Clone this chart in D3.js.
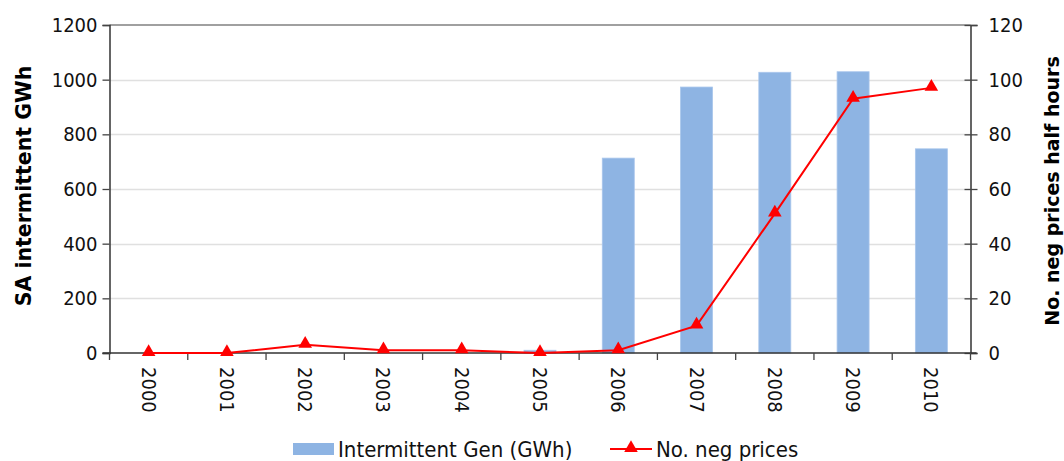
<!DOCTYPE html>
<html><head><meta charset="utf-8">
<script src="https://cdn.jsdelivr.net/npm/d3@7"></script>
<style>body{margin:0;background:#fff}svg{display:block}</style>
</head><body>
<svg id="c" width="1064" height="461"></svg>
<script>
const years = ["2000","2001","2002","2003","2004","2005","2006","2007","2008","2009","2010"];
const genValues = [0,0,0,0,0,10,713,973,1027,1029,747];
const negPrices = [0,0,3,1,1,0,1,10,51,93,97];
const leftTicks = [0,200,400,600,800,1000,1200];
const rightTicks = [0,20,40,60,80,100,120];
const seriesNames = ["Intermittent Gen (GWh)","No. neg prices"];
const axisTitles = ["SA intermittent GWh","No. neg prices half hours"];

const FONT = "'DejaVu Sans Condensed','DejaVu Sans',sans-serif";
const NUMSIZE = 20;
const svg = d3.select("#c");
const L = 109.5, R = 970.5, T = 25, B = 353;
const xb = d3.scaleBand().domain(years).range([L, R]);
const yL = d3.scaleLinear().domain([0,1200]).range([B, T]);
const yR = d3.scaleLinear().domain([0,120]).range([B, T]);

// gridlines
svg.append("g").selectAll("line").data(leftTicks.slice(1,-1)).join("line")
  .attr("x1", L).attr("x2", R).attr("y1", d=>Math.round(yL(d))+0.5).attr("y2", d=>Math.round(yL(d))+0.5)
  .attr("stroke", "#e0e0e0").attr("stroke-width", 1.3);
// top border
svg.append("line").attr("x1", L).attr("x2", R).attr("y1", T).attr("y2", T)
  .attr("stroke", "#808080").attr("stroke-width", 1.5);

// bars
svg.append("g").selectAll("rect").data(years).join("rect")
  .attr("x", (d)=>xb(d) + xb.bandwidth()/2 - 16)
  .attr("width", 32)
  .attr("y", (d,i)=>yL(genValues[i]))
  .attr("height", (d,i)=>B - yL(genValues[i]))
  .attr("fill", "#8eb4e3").attr("stroke", "#a9c6ec").attr("stroke-width", 0.8);

// left axis
const gL = svg.append("g").attr("transform", `translate(${L},0)`)
  .call(d3.axisLeft(yL).tickValues(leftTicks).tickFormat(d3.format("d")).tickSize(7).tickPadding(5));
gL.select(".domain").attr("stroke", "#333").attr("stroke-width", 1.5);
gL.selectAll(".tick line").attr("stroke", "#444").attr("stroke-width", 1.3);
gL.selectAll("text").attr("font-family", FONT).attr("font-size", NUMSIZE).attr("fill", "#111");

// right axis
const gR = svg.append("g").attr("transform", `translate(${R},0)`)
  .call(d3.axisRight(yR).tickValues(rightTicks).tickFormat(d3.format("d")).tickSize(7).tickPadding(11));
gR.select(".domain").attr("stroke", "#333").attr("stroke-width", 1.5);
gR.selectAll(".tick line").attr("x1", -6).attr("stroke", "#444").attr("stroke-width", 1.3);
gR.selectAll("text").attr("font-family", FONT).attr("font-size", NUMSIZE).attr("fill", "#111");

// x axis
const xTicks = years.map(y=>xb(y)).concat([R]);
svg.append("line").attr("x1", L-7).attr("x2", R+6).attr("y1", B).attr("y2", B)
  .attr("stroke", "#333").attr("stroke-width", 1.5);
svg.append("g").selectAll("line").data(xTicks).join("line")
  .attr("x1", d=>d).attr("x2", d=>d).attr("y1", B).attr("y2", B+7)
  .attr("stroke", "#444").attr("stroke-width", 1.3);
svg.append("g").selectAll("text").data(years).join("text")
  .attr("transform", d=>`translate(${xb(d)+xb.bandwidth()/2},367) rotate(90)`)
  .attr("dy", "0.35em").attr("text-anchor", "start")
  .attr("font-family", FONT).attr("font-size", NUMSIZE).attr("fill", "#111")
  .text(d=>d);

// line
const cx = d=>xb(d)+xb.bandwidth()/2;
svg.append("path").datum(years)
  .attr("d", d3.line().x(cx).y((d,i)=>yR(negPrices[i])))
  .attr("fill", "none").attr("stroke", "#ff0000").attr("stroke-width", 2);
const tri = d3.symbol().type(d3.symbolTriangle).size(80);
svg.append("g").selectAll("path").data(years).join("path")
  .attr("transform", (d,i)=>`translate(${cx(d)},${yR(negPrices[i])-1})`)
  .attr("d", tri).attr("fill", "#ff0000");

// axis titles
svg.append("text").attr("transform", `translate(31,${(T+B)/2-3}) rotate(-90)`)
  .attr("text-anchor", "middle").attr("font-family", "'DejaVu Sans',sans-serif")
  .attr("font-weight", "bold").attr("font-size", 20.5).attr("fill", "#000").text(axisTitles[0]);
svg.append("text").attr("transform", `translate(1059,${(T+B)/2+2}) rotate(-90)`)
  .attr("text-anchor", "middle").attr("font-family", "'DejaVu Sans',sans-serif")
  .attr("font-weight", "bold").attr("font-size", 19).attr("fill", "#000").text(axisTitles[1]);

// legend
const lg = svg.append("g");
lg.append("rect").attr("x", 293).attr("y", 443).attr("width", 41).attr("height", 12).attr("fill", "#8eb4e3");
lg.append("text").attr("x", 338).attr("y", 449).attr("dy", "0.35em")
  .attr("font-family", FONT).attr("font-size", 22).attr("fill", "#111").text(seriesNames[0]);
lg.append("line").attr("x1", 610).attr("x2", 652).attr("y1", 449).attr("y2", 449)
  .attr("stroke", "#ff0000").attr("stroke-width", 2);
lg.append("path").attr("transform", "translate(631,448)").attr("d", tri).attr("fill", "#ff0000");
lg.append("text").attr("x", 656).attr("y", 449).attr("dy", "0.35em")
  .attr("font-family", FONT).attr("font-size", 22).attr("fill", "#111").text(seriesNames[1]);
</script>
</body></html>
